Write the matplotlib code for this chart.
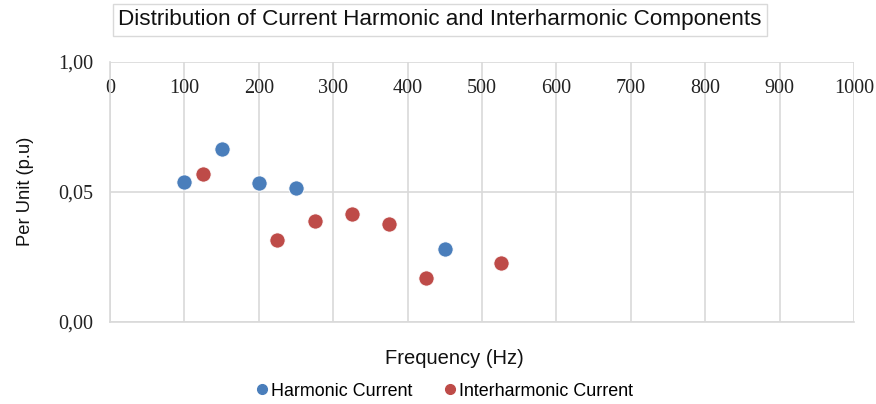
import matplotlib
matplotlib.use("Agg")
import matplotlib.pyplot as plt
from matplotlib.lines import Line2D

harm_freq = [100, 150, 200, 250, 450]
harm_val = [0.0538, 0.0667, 0.0535, 0.0517, 0.0279]
inter_freq = [125, 225, 275, 325, 375, 425, 525]
inter_val = [0.0568, 0.0315, 0.0389, 0.0417, 0.0377, 0.0169, 0.0228]

x_ticks = list(range(0, 1001, 100))
y_ticks = [0.0, 0.05, 0.10]
y_tick_labels = ["0,00", "0,05", "1,00"]

title = "Distribution of Current Harmonic and Interharmonic Components"
blue = "#4A7EBB"
red = "#BE4B48"
grid = "#D9D9D9"

W, H = 876, 404
fig = plt.figure(figsize=(W / 100, H / 100), dpi=100)
ax = fig.add_axes([110 / W, 1 - 322 / H, (854 - 110) / W, (322 - 62) / H])

ax.scatter(harm_freq, harm_val, s=120, color=blue, edgecolors="white", linewidths=0.6, zorder=3)
ax.scatter(inter_freq, inter_val, s=120, color=red, edgecolors="white", linewidths=0.6, zorder=3)

ax.set_xlim(0, 1000)
ax.set_ylim(0, 0.10)
ax.set_xticks(x_ticks)
ax.set_xticklabels([str(v) for v in x_ticks], family="Liberation Serif", fontsize=14.5)
ax.set_yticks(y_ticks)
ax.set_yticklabels(y_tick_labels, family="Liberation Serif", fontsize=14.5)
ax.tick_params(axis="x", top=False, bottom=False, labeltop=True, labelbottom=False,
               length=0, pad=-26, colors="#222222")
ax.tick_params(axis="y", length=0, pad=12, colors="#222222")
ax.grid(True, color=grid, linewidth=1.2)
ax.set_axisbelow(True)
for side in ["top", "right"]:
    ax.spines[side].set_visible(False)
for side in ["left", "bottom"]:
    ax.spines[side].set_color(grid)
    ax.spines[side].set_linewidth(1.2)

fig.text(440 / W, 1 - 20 / H, title, ha="center", va="center", fontsize=16.2,
         family="Liberation Sans", color="#111111",
         bbox=dict(boxstyle="square,pad=0.25", facecolor="white", edgecolor=grid, linewidth=1))
fig.text(454 / W, 1 - 358 / H, "Frequency (Hz)", ha="center", va="center", fontsize=14.5,
         family="Liberation Sans", color="#111111")
fig.text(25 / W, 1 - 191 / H, "Per Unit (p.u)", ha="center", va="center", rotation=90,
         fontsize=13.2, family="Liberation Sans", color="#111111")

handles = [Line2D([], [], marker="o", linestyle="none", color=blue, markersize=7),
           Line2D([], [], marker="o", linestyle="none", color=red, markersize=7)]
fig.legend(handles, ["Harmonic Current", "Interharmonic Current"], loc="center",
           bbox_to_anchor=(443 / W, 1 - 391 / H), ncol=2, frameon=False,
           handletextpad=0.0, columnspacing=1.6, handlelength=1.0,
           prop={"family": "Liberation Sans", "size": 12.9})

fig.savefig("out.png", dpi=100)
